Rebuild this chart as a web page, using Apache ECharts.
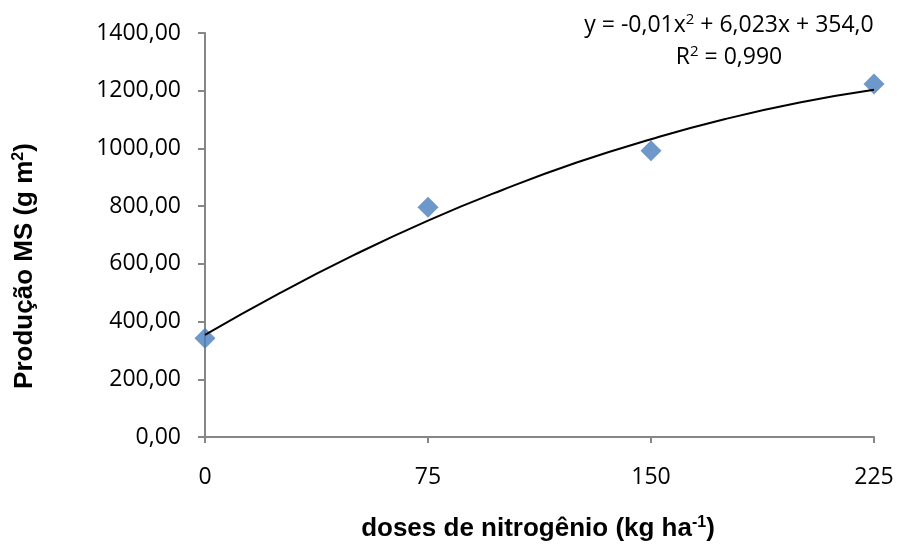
<!DOCTYPE html>
<html>
<head>
<meta charset="utf-8">
<script src="https://cdn.jsdelivr.net/npm/echarts@6/dist/echarts.min.js"></script>
<style>
  html, body { margin: 0; padding: 0; background: #fff; }
  #main { width: 897px; height: 544px; }
</style>
</head>
<body>
<div id="main"></div>
<script>
var myChart = echarts.init(document.getElementById("main"));

// doses de nitrogênio (kg/ha) e produção medida
var doses = [0, 75, 150, 225];
var producao = [342, 796, 992, 1223];

// linha de tendência
var trendX = [0, 25, 50, 75, 100, 125, 150, 175, 200, 225];
var trendY = [354, 498, 630, 750, 856, 951, 1032, 1102, 1159, 1203];

var xTicks = [0, 75, 150, 225];
var yTicks = [0, 200, 400, 600, 800, 1000, 1200, 1400];

var font = '"Open Sans", sans-serif';
var bold = '"Liberation Sans", Arial, sans-serif';
var axisGrey = 'rgb(134,134,134)';

var option = {
    backgroundColor: '#fff',
    animation: false,
    grid: {
        left: 205,
        right: 23,
        top: 33,
        bottom: 107
    },
    xAxis: {
        type: 'value',
        min: xTicks[0],
        max: xTicks[xTicks.length - 1],
        interval: 75,
        axisLine: { lineStyle: { color: axisGrey, width: 2 } },
        axisTick: { show: true, length: 6, lineStyle: { color: axisGrey, width: 2 } },
        splitLine: { show: false },
        axisLabel: {
            margin: 29,
            fontSize: 23,
            fontFamily: font,
            color: '#000'
        }
    },
    yAxis: {
        type: 'value',
        min: yTicks[0],
        max: yTicks[yTicks.length - 1],
        interval: 200,
        axisLine: { show: true, lineStyle: { color: axisGrey, width: 2 } },
        axisTick: { show: true, length: 7, lineStyle: { color: axisGrey, width: 2 } },
        splitLine: { show: false },
        axisLabel: {
            margin: 24,
            fontSize: 23,
            fontFamily: font,
            color: '#000',
            formatter: function (v) { return v.toFixed(2).replace('.', ','); }
        }
    },
    graphic: [
        {
            type: 'text',
            x: 729, y: 25,
            style: {
                text: 'y = -0,01x{sup|2} + 6,023x + 354,0',
                align: 'center',
                verticalAlign: 'middle',
                font: '23px ' + font,
                fill: '#000',
                rich: {
                    sup: { fontSize: 15, fontFamily: font, padding: [0, 0, 11, 0] }
                }
            }
        },
        {
            type: 'text',
            x: 729, y: 57,
            style: {
                text: 'R{sup|2} = 0,990',
                align: 'center',
                verticalAlign: 'middle',
                font: '23px ' + font,
                fill: '#000',
                rich: {
                    sup: { fontSize: 15, fontFamily: font, padding: [0, 0, 11, 0] }
                }
            }
        },
        {
            type: 'text',
            x: 538, y: 529,
            style: {
                text: 'doses de nitrogênio (kg ha{sup|-1})',
                align: 'center',
                verticalAlign: 'middle',
                font: 'bold 26px ' + bold,
                fill: '#000',
                rich: {
                    sup: { fontSize: 16, fontWeight: 'bold', fontFamily: bold, padding: [0, 0, 13, 0] }
                }
            }
        },
        {
            type: 'text',
            x: 25, y: 266,
            rotation: Math.PI / 2,
            style: {
                text: 'Produção MS (g m{sup|2})',
                align: 'center',
                verticalAlign: 'middle',
                font: 'bold 26px ' + bold,
                fill: '#000',
                rich: {
                    sup: { fontSize: 16, fontWeight: 'bold', fontFamily: bold, padding: [0, 0, 13, 0] }
                }
            }
        }
    ],
    series: [
        {
            name: 'tendência',
            type: 'line',
            data: trendX.map(function (x, i) { return [x, trendY[i]]; }),
            smooth: true,
            showSymbol: false,
            lineStyle: { color: '#000', width: 2 },
            z: 3
        },
        {
            name: 'Produção',
            type: 'scatter',
            data: doses.map(function (x, i) { return [x, producao[i]]; }),
            symbol: 'diamond',
            symbolSize: [21, 21],
            itemStyle: { color: 'rgb(74,126,187)' },
            z: 2
        }
    ]
};

myChart.setOption(option);
</script>
</body>
</html>
